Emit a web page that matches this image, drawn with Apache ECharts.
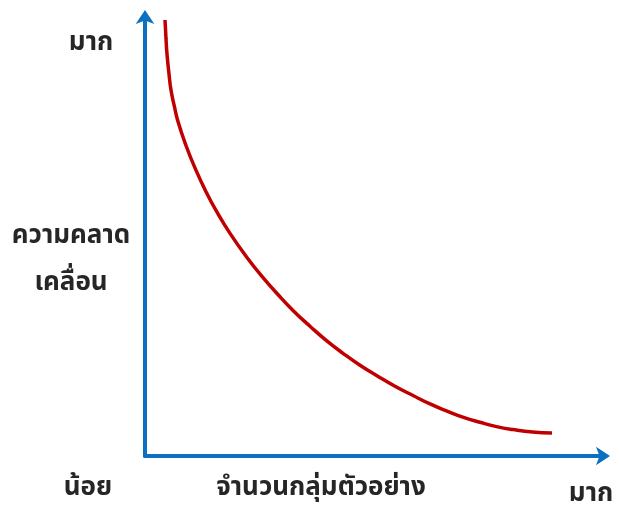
<!DOCTYPE html>
<html>
<head>
<meta charset="utf-8">
<script src="https://cdn.jsdelivr.net/npm/echarts@6/dist/echarts.min.js"></script>
<style>
html,body{margin:0;padding:0;background:#fff;}
#c{width:619px;height:505px;}
</style>
</head>
<body>
<div id="c"></div>
<script>
// Sample size (relative, 0-100) and error (relative, 0-100)
var sampleSize = [4.35, 4.57, 4.78, 5.22, 5.65, 6.41, 7.17, 8.91, 10.87, 13.26, 15.65, 18.48, 22.17, 25.43, 28.70, 32.28, 35.87, 39.46, 43.04, 46.74, 50.43, 54.35, 58.26, 61.96, 65.65, 69.24, 72.83, 76.41, 80.0, 84.24, 88.48];
var errorValue = [98.87, 94.56, 91.16, 86.62, 82.99, 79.14, 75.85, 70.41, 65.31, 59.94, 55.28, 50.48, 45.01, 40.73, 36.85, 32.90, 29.43, 26.16, 23.29, 20.58, 18.21, 15.83, 13.72, 11.81, 10.18, 8.76, 7.64, 6.67, 5.99, 5.42, 5.19];
var yTopLabel = 'มาก';
var yBottomLabel = 'น้อย';
var yTitleLines = ['ความคลาด', 'เคลื่อน'];
var xTitle = 'จำนวนกลุ่มตัวอย่าง';
var xRightLabel = 'มาก';

var points = sampleSize.map(function (x, i) { return [x, errorValue[i]]; });
var chart = echarts.init(document.getElementById('c'), null, {renderer: 'canvas'});
var axisBlue = '#0B70C2';
var textColor = '#262626';
var font = 'bold 26px Tahoma, "Noto Sans Thai", "Noto Sans", sans-serif';
function label(t, x, y) {
  return {type: 'text', x: x, y: y, style: {text: t, fill: textColor, font: font, align: 'center', verticalAlign: 'middle'}};
}
chart.setOption({
  animation: false,
  grid: {left: 145, right: 14, top: 15, bottom: 49},
  xAxis: {
    type: 'value', min: 0, max: 100,
    axisLine: {show: true, symbol: ['none', 'arrow'], symbolSize: [14, 14], symbolOffset: [0, 5], lineStyle: {color: axisBlue, width: 4}},
    axisTick: {show: false}, axisLabel: {show: false}, splitLine: {show: false}
  },
  yAxis: {
    type: 'value', min: 0, max: 100,
    axisLine: {show: true, onZero: false, symbol: ['none', 'arrow'], symbolSize: [14, 14], symbolOffset: [0, 5], lineStyle: {color: axisBlue, width: 4}},
    axisTick: {show: false}, axisLabel: {show: false}, splitLine: {show: false}
  },
  series: [{
    type: 'line', data: points, smooth: 0.5, showSymbol: false,
    lineStyle: {color: '#C00000', width: 3.5, cap: 'butt'}
  }],
  graphic: [
    label(yTopLabel, 91, 45),
    label(yTitleLines[0], 71, 238),
    label(yTitleLines[1], 71, 285),
    label(yBottomLabel, 88, 490),
    label(xTitle, 321, 490),
    label(xRightLabel, 591, 496)
  ]
});
</script>
</body>
</html>
